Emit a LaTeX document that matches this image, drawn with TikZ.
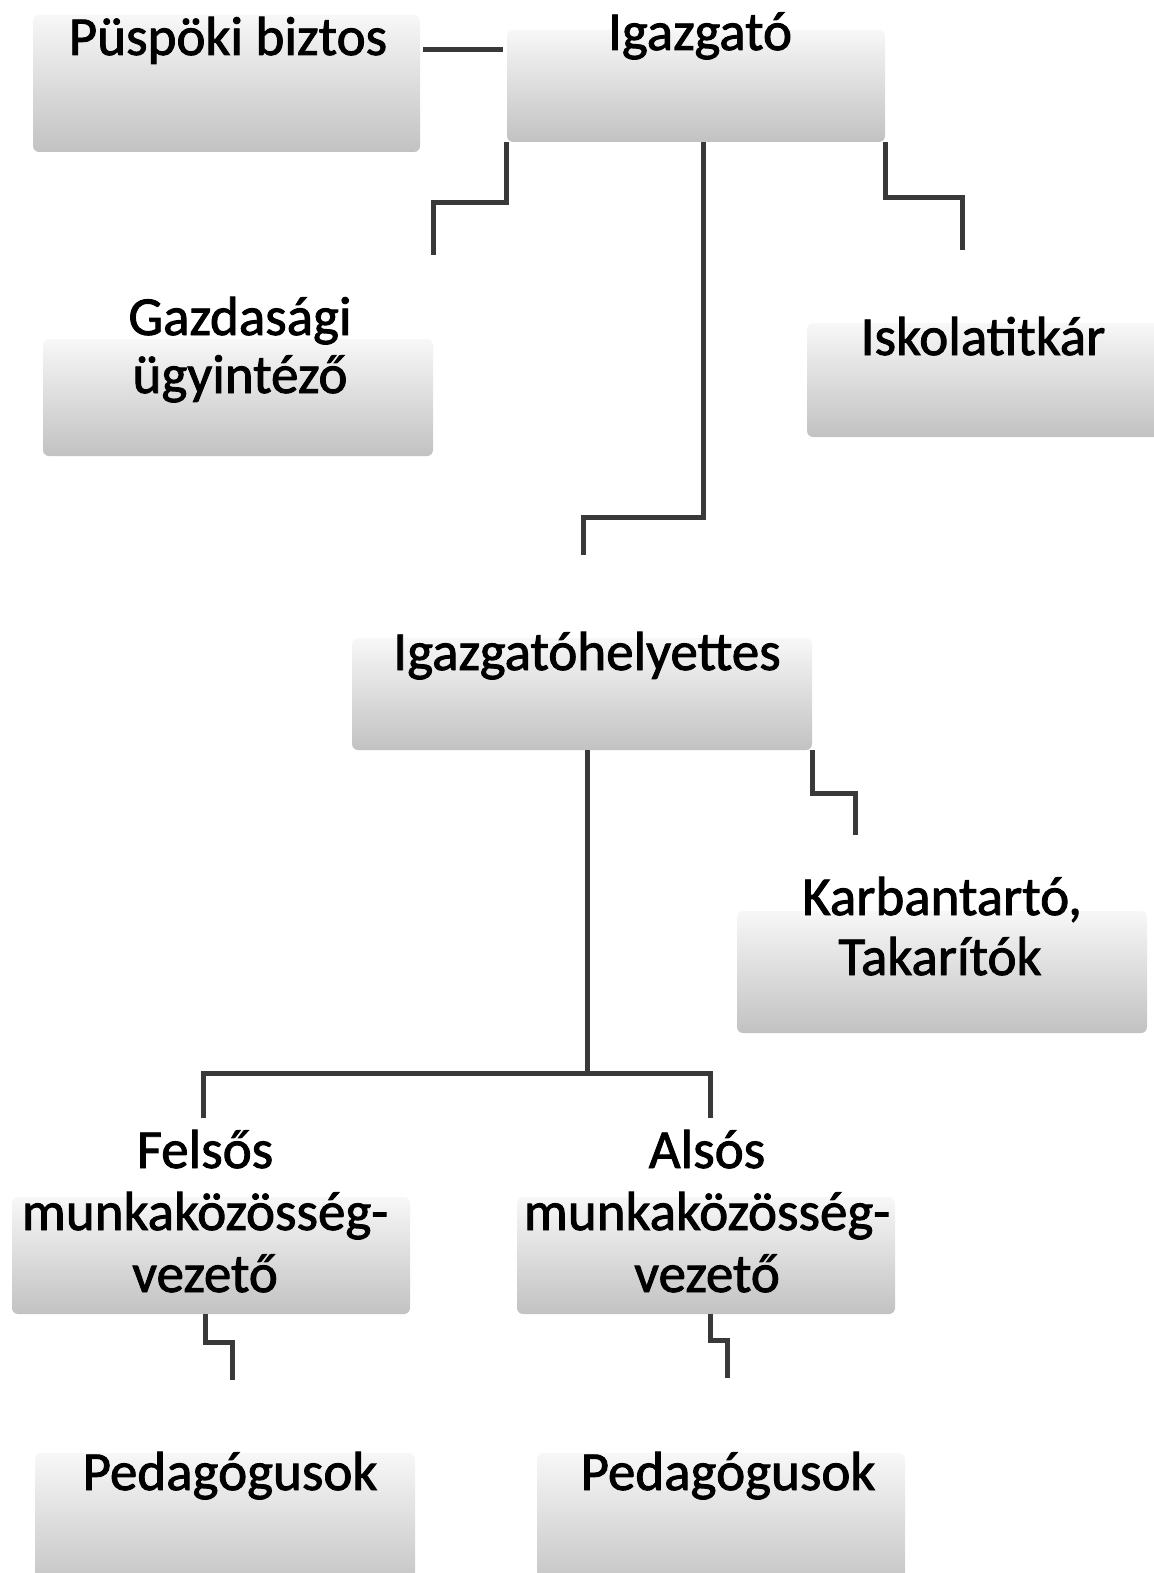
\documentclass[tikz,border=0pt]{standalone}
\usepackage{fontspec}
\setmainfont{Carlito}
\newfontfamily\lblfont{Carlito}[FakeBold=1.6]
\begin{document}
\begin{tikzpicture}[x=1pt,y=-1pt,
  box/.style={draw=none, rounded corners=6pt, top color=gray!6, bottom color=gray!48, inner sep=0pt},
  lbl/.style={font=\lblfont\fontsize{55}{62}\selectfont, inner sep=0pt, anchor=base},
  conn/.style={draw=gray!45!black, line width=5pt}]
\useasboundingbox (0,0) rectangle (1153,1573);
% boxes
\node[box, minimum width=387pt, minimum height=137pt] (pb) at (226.5,83.5) {};
\node[box, minimum width=378pt, minimum height=112pt] (ig) at (696,86) {};
\node[box, minimum width=390pt, minimum height=117pt] (gaz) at (238,397.5) {};
\node[box, minimum width=355pt, minimum height=114pt] (isk) at (984.5,380) {};
\node[box, minimum width=460pt, minimum height=112pt] (ih) at (582,694) {};
\node[box, minimum width=410pt, minimum height=122pt] (kar) at (942,972) {};
\node[box, minimum width=398pt, minimum height=117pt] (fel) at (211,1255.5) {};
\node[box, minimum width=378pt, minimum height=117pt] (als) at (706,1255.5) {};
\node[box, minimum width=380pt, minimum height=140pt] (pedl) at (225,1523) {};
\node[box, minimum width=368pt, minimum height=140pt] (pedr) at (721,1523) {};
% labels
\node[lbl] (pbt) at (228,55) {Püspöki biztos};
\node[lbl] (igt) at (700,50) {Igazgató};
\node[lbl] (gazt1) at (240,335) {Gazdasági};
\node[lbl] (gazt2) at (240,393) {ügyintéző};
\node[lbl] (iskt) at (983,355) {Iskolatitkár};
\node[lbl] (iht) at (587,670) {Igazgatóhelyettes};
\node[lbl] (kart1) at (942,915) {Karbantartó,};
\node[lbl] (kart2) at (940,975) {Takarítók};
\node[lbl] (felt1) at (205,1168) {Felsős};
\node[lbl] (felt2) at (205,1230) {munkaközösség-};
\node[lbl] (felt3) at (205,1292) {vezető};
\node[lbl] (alst1) at (707,1168) {Alsós};
\node[lbl] (alst2) at (707,1230) {munkaközösség-};
\node[lbl] (alst3) at (707,1292) {vezető};
\node[lbl] (pedlt) at (230,1490) {Pedagógusok};
\node[lbl] (pedrt) at (728,1490) {Pedagógusok};
% connector ends
\coordinate (ly) at (0,50);
\coordinate (gazend) at (433,255);
\coordinate (ihend) at (583,555);
\coordinate (iskend) at (962,250);
\coordinate (hub) at (587,1073);
\coordinate (felend) at (203,1118);
\coordinate (alsend) at (710,1118);
\coordinate (karend) at (855,835);
\coordinate (pedlend) at (232,1380);
\coordinate (pedrend) at (727,1378);
% connectors
\draw[conn] ([xshift=3pt]pb.east |- ly) -- ([xshift=-4pt]ig.west |- ly);
\draw[conn] (ig.south west) -- ++(0,60) -| (gazend);
\draw[conn] ([xshift=7pt]ig.south) -- ++(0,375) -| (ihend);
\draw[conn] (ig.south east) -- ++(0,55) -| (iskend);
\draw[conn] ([xshift=5pt]ih.south) -- (hub);
\draw[conn] (felend) -- (felend |- hub) -- (alsend |- hub) -- (alsend);
\draw[conn] (ih.south east) -- ++(0,43) -| (karend);
\draw[conn] ([xshift=-6pt]fel.south) -- ++(0,28) -| (pedlend);
\draw[conn] ([xshift=4pt]als.south) -- ++(0,26) -| (pedrend);
\end{tikzpicture}
\end{document}
